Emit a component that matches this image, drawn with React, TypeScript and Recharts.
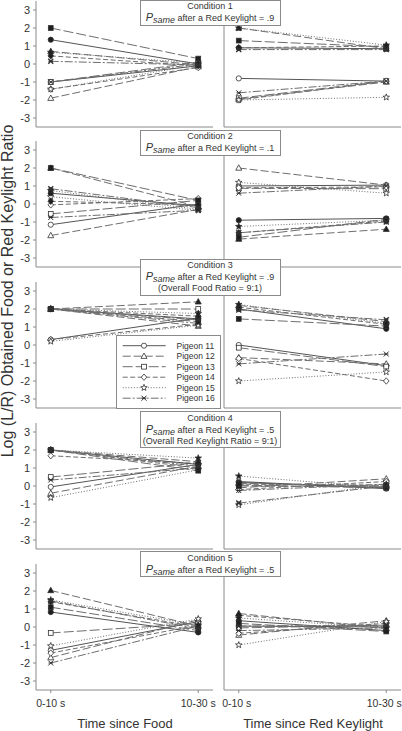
import React from 'react';
import { LineChart, Line, XAxis, YAxis } from 'recharts';

const pigeons = ['Pigeon 11', 'Pigeon 12', 'Pigeon 13', 'Pigeon 14', 'Pigeon 15', 'Pigeon 16'];
const timeLabels = ['0-10 s', '10-30 s'];
const yTicks = [-3, -2, -1, 0, 1, 2, 3];
const conditionTitles = ['Condition 1', 'Condition 2', 'Condition 3', 'Condition 4', 'Condition 5'];
const conditionPsame = ['.9', '.1', '.9', '.5', '.5'];
const conditionNotes = ['', '', '(Overall Food Ratio = 9:1)', '(Overall Red Keylight Ratio = 9:1)', ''];

// [0-10 s, 10-30 s] per pigeon (11..16); filled and open markers
const c1FoodFilled = [[1.35, 0.0], [0.7, -0.05], [2.0, 0.3], [0.45, -0.1], [0.65, 0.05], [0.15, -0.05]];
const c1FoodOpen = [[-1.0, -0.1], [-1.9, -0.15], [-1.0, 0.1], [-1.4, -0.2], [-1.4, -0.05], [-1.0, 0.0]];
const c1KeyFilled = [[0.9, 0.85], [2.0, 0.85], [1.3, 0.95], [0.9, 1.0], [2.0, 1.05], [0.8, 0.8]];
const c1KeyOpen = [[-0.8, -0.95], [-1.95, -1.0], [-1.9, -0.95], [-2.0, -0.95], [-2.0, -1.85], [-1.6, -0.95]];

const c2FoodFilled = [[0.6, -0.1], [2.0, -0.15], [2.0, 0.2], [0.15, -0.05], [0.75, -0.3], [0.85, -0.2]];
const c2FoodOpen = [[-1.15, 0.0], [-1.75, -0.3], [-0.55, 0.2], [-0.05, 0.3], [0.4, -0.35], [-0.75, -0.35]];
const c2KeyFilled = [[-0.9, -0.8], [-1.95, -1.4], [-1.85, -0.85], [-1.6, -0.95], [-1.25, -0.9], [-1.6, -1.0]];
const c2KeyOpen = [[1.0, 1.05], [2.0, 1.05], [0.87, 0.85], [0.9, 0.95], [1.2, 0.6], [0.6, 1.0]];

const c3FoodFilled = [[2.0, 1.45], [2.0, 2.4], [2.0, 1.3], [2.0, 1.6], [2.0, 1.75], [2.0, 1.4]];
const c3FoodOpen = [[0.3, 1.5], [2.0, 1.05], [2.0, 2.0], [0.3, 1.15], [0.2, 1.1], [2.0, 1.2]];
const c3KeyFilled = [[2.0, 0.9], [2.2, 1.3], [1.45, 1.05], [2.1, 1.15], [2.25, 1.2], [1.95, 1.4]];
const c3KeyOpen = [[0.0, -1.15], [-0.7, -1.05], [-0.15, -1.2], [-0.75, -2.0], [-2.0, -1.5], [-1.05, -0.5]];

const c4FoodFilled = [[2.0, 1.2], [2.0, 1.35], [2.0, 0.85], [2.0, 1.0], [2.0, 1.55], [2.0, 1.1]];
const c4FoodOpen = [[-0.05, 1.2], [-0.4, 1.1], [0.5, 1.3], [1.68, 1.25], [-0.65, 0.9], [0.33, 1.0]];
const c4KeyFilled = [[0.2, -0.1], [0.15, 0.0], [0.0, -0.05], [0.1, 0.05], [0.55, -0.1], [-0.95, 0.0]];
const c4KeyOpen = [[0.25, -0.15], [-0.1, 0.4], [0.05, -0.1], [-0.2, 0.25], [-1.05, 0.1], [-0.25, 0.1]];

const c5FoodFilled = [[0.83, -0.3], [2.03, 0.05], [1.1, -0.2], [1.4, 0.0], [1.5, 0.1], [1.45, -0.1]];
const c5FoodOpen = [[-1.3, 0.3], [-1.7, 0.4], [-0.33, 0.2], [-1.45, 0.1], [-1.05, 0.45], [-2.0, 0.05]];
const c5KeyFilled = [[0.35, -0.2], [0.75, -0.1], [0.2, -0.25], [0.65, 0.0], [0.5, -0.05], [0.05, 0.1]];
const c5KeyOpen = [[0.05, 0.0], [-0.45, 0.35], [-0.05, 0.1], [-0.35, 0.2], [-1.0, 0.3], [-0.2, -0.05]];

const foodFilled = [c1FoodFilled, c2FoodFilled, c3FoodFilled, c4FoodFilled, c5FoodFilled];
const foodOpen = [c1FoodOpen, c2FoodOpen, c3FoodOpen, c4FoodOpen, c5FoodOpen];
const keyFilled = [c1KeyFilled, c2KeyFilled, c3KeyFilled, c4KeyFilled, c5KeyFilled];
const keyOpen = [c1KeyOpen, c2KeyOpen, c3KeyOpen, c4KeyOpen, c5KeyOpen];

const shapes = ['circle', 'triangle', 'square', 'diamond', 'star', 'cross'];
const dashes = ['', '8 3', '10 3', '5 2.5', '1 1.8', '8 2 2 2'];

const FONT = '"Liberation Sans", Arial, Helvetica, sans-serif';
const AXIS = '#8a8a8a';
const LINE = '#6e6e6e';
const MARK = '#303030';
const TEXT = '#333';

const panelTops = [1, 141, 282, 423, 564];
const PLOT_W = 177;
const PANEL_H = 126;

function Marker({ shape, filled, cx, cy }: { shape: string; filled: boolean; cx: number; cy: number }) {
  const fill = filled ? '#1e1e1e' : '#ffffff';
  const common = { fill, stroke: MARK, strokeWidth: 0.8 };
  if (shape === 'circle') return <circle cx={cx} cy={cy} r={2.6} {...common} />;
  if (shape === 'square') return <rect x={cx - 2.4} y={cy - 2.4} width={4.8} height={4.8} {...common} />;
  if (shape === 'triangle')
    return <polygon points={`${cx},${cy - 3.2} ${cx + 3},${cy + 2.2} ${cx - 3},${cy + 2.2}`} {...common} />;
  if (shape === 'diamond')
    return <polygon points={`${cx},${cy - 3.2} ${cx + 2.8},${cy} ${cx},${cy + 3.2} ${cx - 2.8},${cy}`} {...common} />;
  if (shape === 'star') {
    const pts: string[] = [];
    for (let k = 0; k < 10; k++) {
      const r = k % 2 === 0 ? 3.4 : 1.4;
      const a = -Math.PI / 2 + (k * Math.PI) / 5;
      pts.push(`${cx + r * Math.cos(a)},${cy + r * Math.sin(a)}`);
    }
    return <polygon points={pts.join(' ')} {...common} />;
  }
  return (
    <g stroke={MARK} strokeWidth={filled ? 1.4 : 1}>
      <line x1={cx - 2.5} y1={cy - 2.5} x2={cx + 2.5} y2={cy + 2.5} />
      <line x1={cx - 2.5} y1={cy + 2.5} x2={cx + 2.5} y2={cy - 2.5} />
      <line x1={cx - 2.2} y1={cy} x2={cx + 2.2} y2={cy} />
    </g>
  );
}

function Panel({ row, food }: { row: number; food: boolean }) {
  const filled = food ? foodFilled[row] : keyFilled[row];
  const open = food ? foodOpen[row] : keyOpen[row];
  const data = [0, 1].map((t) => {
    const r: any = { t };
    pigeons.forEach((_, i) => {
      r['f' + i] = filled[i][t];
      r['o' + i] = open[i][t];
    });
    return r;
  });
  const bottom = row === 4;
  const yw = food ? 36 : 10;
  const xh = bottom ? 22 : 5;
  const mr = food ? 2 : 1;
  const lines: any[] = [];
  ['o', 'f'].forEach((kind) => {
    pigeons.forEach((_, i) => {
      const key = kind + i;
      lines.push(
        <Line
          key={key}
          dataKey={key}
          type="linear"
          stroke={i === 0 ? '#555' : LINE}
          strokeWidth={1}
          strokeDasharray={dashes[i]}
          isAnimationActive={false}
          dot={(p: any) => (
            <Marker key={`${key}-${p.index}`} shape={shapes[i]} filled={kind === 'f'} cx={p.cx} cy={p.cy} />
          )}
          activeDot={false}
        />
      );
    });
  });
  return (
    <div style={{ position: 'absolute', left: food ? 0 : 214, top: panelTops[row] - 5 }}>
      <LineChart
        width={yw + PLOT_W + mr}
        height={5 + PANEL_H + xh}
        data={data}
        margin={{ top: 5, right: mr, bottom: 0, left: 0 }}
      >
        <XAxis
          type="number"
          dataKey="t"
          domain={[-0.1, 1.1]}
          ticks={[0, 1]}
          allowDataOverflow
          interval={0}
          height={xh}
          tickSize={3}
          tickMargin={7}
          stroke={AXIS}
          tick={bottom ? { fill: TEXT, fontSize: 10.5, fontFamily: FONT, dx: food ? 0 : -2 } : false}
          tickFormatter={(v: number) => timeLabels[v]}
        />
        <YAxis
          type="number"
          domain={[-3.5, 3.5]}
          ticks={yTicks}
          allowDataOverflow
          interval={0}
          width={yw}
          tickSize={3}
          tickMargin={3}
          stroke={AXIS}
          tick={food ? { fill: TEXT, fontSize: 11, fontFamily: FONT } : false}
        />
        {lines}
      </LineChart>
    </div>
  );
}

const boxTops = [-0.5, 129.5, 258.5, 411, 551];

function ConditionBox({ i }: { i: number }) {
  return (
    <div
      style={{
        position: 'absolute',
        left: 139.5,
        top: boxTops[i],
        width: 141,
        boxSizing: 'border-box',
        border: `1px solid ${AXIS}`,
        background: '#fff',
        textAlign: 'center',
        fontSize: 9,
        lineHeight: '11px',
        color: TEXT,
        padding: '0.5px 0 0.5px 0',
        whiteSpace: 'nowrap',
      }}
    >
      <div>{conditionTitles[i]}</div>
      <div>
        <span style={{ fontStyle: 'italic', fontSize: 11 }}>P</span>
        <span style={{ fontStyle: 'italic', fontSize: 9, position: 'relative', top: 2 }}>same</span>
        {` after a Red Keylight = ${conditionPsame[i]}`}
      </div>
      {conditionNotes[i] ? <div>{conditionNotes[i]}</div> : null}
    </div>
  );
}

function LegendBox() {
  return (
    <svg style={{ position: 'absolute', left: 116, top: 335 }} width={105} height={75}>
      <rect x={0.5} y={0.5} width={104} height={73} fill="#fff" stroke={AXIS} />
      {pigeons.map((name, i) => {
        const y = 10.7 + 10.5 * i;
        return (
          <g key={name}>
            <line x1={6.7} y1={y} x2={49.7} y2={y} stroke={i === 0 ? '#555' : LINE} strokeDasharray={dashes[i]} />
            <Marker shape={shapes[i]} filled={false} cx={28} cy={y} />
            <text x={60.5} y={y} dy="0.35em" fontSize={8.5} fill={TEXT} fontFamily={FONT}>
              {name}
            </text>
          </g>
        );
      })}
    </svg>
  );
}

export default function App() {
  return (
    <div style={{ position: 'absolute', left: 0, top: 0, width: 402, height: 731, background: '#fff', fontFamily: FONT, overflow: 'hidden' }}>
      <style>{`.recharts-surface{overflow:visible}`}</style>
      {[0, 1, 2, 3, 4].map((r) => (
        <React.Fragment key={r}>
          <Panel row={r} food={true} />
          <Panel row={r} food={false} />
        </React.Fragment>
      ))}
      <LegendBox />
      {[0, 1, 2, 3, 4].map((i) => (
        <ConditionBox key={i} i={i} />
      ))}
      <div
        style={{
          position: 'absolute',
          left: 8,
          top: 291,
          transform: 'translate(-50%, -50%) rotate(-90deg)',
          fontSize: 16,
          whiteSpace: 'nowrap',
          color: TEXT,
        }}
      >
        Log (L/R) Obtained Food or Red Keylight Ratio
      </div>
      <div style={{ position: 'absolute', left: 125, top: 723, transform: 'translate(-50%, -50%)', fontSize: 13, whiteSpace: 'nowrap', color: TEXT }}>
        Time since Food
      </div>
      <div style={{ position: 'absolute', left: 313, top: 723, transform: 'translate(-50%, -50%)', fontSize: 13, whiteSpace: 'nowrap', color: TEXT }}>
        Time since Red Keylight
      </div>
    </div>
  );
}
